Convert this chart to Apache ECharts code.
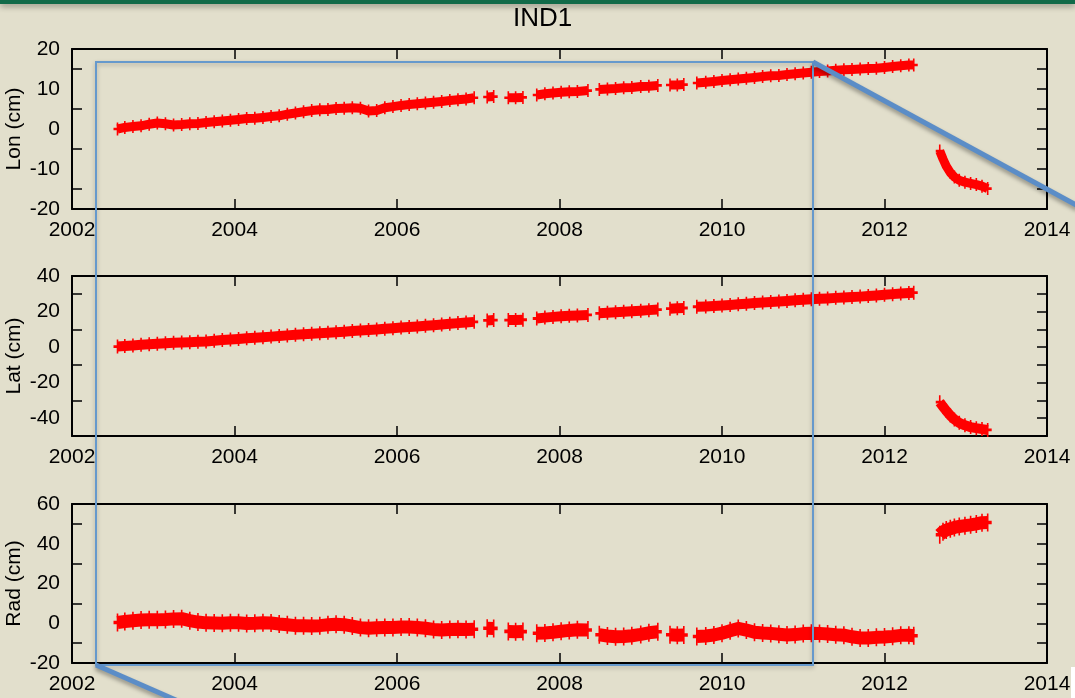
<!DOCTYPE html>
<html>
<head>
<meta charset="utf-8">
<script src="https://cdn.jsdelivr.net/npm/echarts@6/dist/echarts.min.js"></script>
<style>
html,body{margin:0;padding:0;background:#e2dfcc;}
#chart{width:1075px;height:698px;}
</style>
</head>
<body>
<div id="chart"></div>
<script>
// Sample times (decimal year); entries whose values are null mark data gaps
const years = [
  2002.56, 2002.65, 2002.75, 2002.85, 2002.95,
  2003.05, 2003.15, 2003.25, 2003.35, 2003.45, 2003.55, 2003.65, 2003.75, 2003.85, 2003.95,
  2004.05, 2004.15, 2004.25, 2004.35, 2004.45, 2004.55, 2004.65, 2004.75, 2004.85, 2004.95,
  2005.05, 2005.15, 2005.25, 2005.35, 2005.45, 2005.55, 2005.65, 2005.75, 2005.85, 2005.95,
  2006.05, 2006.15, 2006.25, 2006.35, 2006.45, 2006.55, 2006.65, 2006.75, 2006.85, 2006.95,
  2007.04,
  2007.11, 2007.19,
  2007.28,
  2007.37, 2007.46, 2007.55,
  2007.63,
  2007.72, 2007.82, 2007.92, 2008.02, 2008.12, 2008.22, 2008.35,
  2008.42,
  2008.49, 2008.59, 2008.69, 2008.79, 2008.89, 2009.00, 2009.10, 2009.21,
  2009.28,
  2009.36, 2009.45, 2009.53,
  2009.61,
  2009.69, 2009.80, 2009.90,
  2010.00, 2010.10, 2010.20, 2010.30, 2010.40, 2010.50, 2010.60, 2010.70, 2010.80, 2010.90,
  2011.00, 2011.10, 2011.20, 2011.30, 2011.40, 2011.50, 2011.60, 2011.70, 2011.80, 2011.90,
  2012.00, 2012.10, 2012.20, 2012.30, 2012.36,
  2012.50,
  2012.68, 2012.72, 2012.76, 2012.81, 2012.86, 2012.92, 2012.99, 2013.06, 2013.13, 2013.20, 2013.27
];

const lonValues = [
  0.0, 0.4, 0.6, 0.8, 1.2,
  1.5, 1.3, 1.0, 1.1, 1.3, 1.4, 1.6, 1.8, 2.0, 2.2,
  2.4, 2.6, 2.7, 2.9, 3.1, 3.3, 3.7, 4.0, 4.3, 4.6,
  4.8, 4.9, 5.1, 5.2, 5.3, 5.2, 4.5, 4.6, 5.3, 5.6,
  5.9, 6.1, 6.3, 6.5, 6.7, 6.9, 7.1, 7.3, 7.5, 7.8,
  null,
  8.0, 8.1,
  null,
  7.8, 7.8, 7.9,
  null,
  8.5, 8.8, 9.0, 9.2, 9.3, 9.4, 9.6,
  null,
  9.9, 10.0, 10.1, 10.3, 10.4, 10.6, 10.7, 10.9,
  null,
  11.0, 11.0, 11.1,
  null,
  11.5, 11.7, 11.9,
  12.1, 12.3, 12.5, 12.7, 12.9, 13.1, 13.3, 13.4, 13.6, 13.8,
  14.0, 14.2, 14.4, 14.5, 14.7, 14.8, 14.9, 15.0, 15.1, 15.2,
  15.4, 15.6, 15.8, 16.0, 16.0,
  null,
  -5.5, -7.5, -9.3, -10.9, -12.0, -12.8, -13.3, -13.6, -13.9, -14.3, -14.9
];

const latValues = [
  0.3, 0.6, 0.9, 1.3, 1.6,
  1.9, 2.2, 2.4, 2.6, 2.8, 3.0, 3.2, 3.6, 4.0, 4.3,
  4.6, 5.0, 5.3, 5.6, 5.9, 6.2, 6.6, 6.9, 7.2, 7.5,
  7.8, 8.1, 8.4, 8.7, 9.0, 9.3, 9.6, 9.9, 10.3, 10.6,
  11.0, 11.3, 11.6, 12.0, 12.3, 12.7, 13.1, 13.5, 13.8, 14.2,
  null,
  15.0, 15.2,
  null,
  15.2, 15.3, 15.4,
  null,
  16.1, 16.6, 17.0, 17.3, 17.6, 17.8, 18.1,
  null,
  19.0, 19.3, 19.6, 19.9, 20.2, 20.5, 20.8, 21.1,
  null,
  21.6, 21.8, 22.0,
  null,
  22.7, 22.9, 23.1,
  23.4, 23.7, 24.1, 24.4, 24.8, 25.1, 25.4, 25.7, 26.0, 26.3,
  26.6, 26.9, 27.2, 27.4, 27.7, 27.9, 28.2, 28.4, 28.7, 29.0,
  29.4, 29.8, 30.1, 30.4, 30.6,
  null,
  -31.0, -33.5, -35.8, -38.5, -40.7, -42.6, -44.0, -45.0, -45.6, -46.1, -46.6
];

const radValues = [
  0.4, 0.9, 1.3, 1.6, 1.7,
  1.7, 1.9, 2.2, 2.3, 1.3, 0.6, 0.2, 0.1, 0.0, 0.3,
  0.2, -0.1, 0.0, 0.3, 0.1, -0.4, -0.8, -1.2, -1.3, -1.4,
  -1.2, -0.8, -0.5, -0.7, -1.4, -2.2, -2.5, -2.3, -2.2, -2.1,
  -1.9, -1.9, -2.1, -2.5, -3.1, -3.4, -3.1, -3.0, -3.1, -3.0,
  null,
  -2.5, -2.6,
  null,
  -4.1, -4.3, -4.2,
  null,
  -5.0, -4.9, -4.5, -4.0, -3.6, -3.3, -3.4,
  null,
  -5.8, -6.4, -6.8, -6.7, -6.3, -5.6, -4.8, -4.3,
  null,
  -5.8, -6.0, -5.9,
  null,
  -6.7, -6.4, -5.9,
  -5.0, -3.8, -2.6, -3.4, -4.5, -4.9, -5.1, -5.5, -5.9, -5.7,
  -5.2, -5.0, -5.1, -5.4, -5.8, -6.0, -6.8, -7.4, -7.4, -7.1,
  -6.9, -6.6, -6.1, -6.0, -6.3,
  null,
  44.5, 46.0, 46.9, 47.6, 48.2, 48.7, 49.1, 49.5, 50.0, 50.6, 50.7
];

const xTickYears = [2002, 2014, 2];          // min, max, step
const panelNames = ['Lon (cm)', 'Lat (cm)', 'Rad (cm)'];
const panelRanges = [[-20, 20], [-50, 40], [-20, 60]];
const panelLabels = [[-20, -10, 0, 10, 20], [-40, -20, 0, 20, 40], [-20, 0, 20, 40, 60]];
const panelLeftTicks = [[-15, -5, 5, 15], [-30, -10, 10, 30], [-10, 10, 30, 50]];
const panelRightStep = [5, 10, 10];
const chartTitle = 'IND1';

const FONT = '"Liberation Sans", Arial, Helvetica, sans-serif';
const grids = [
  {left: 72, top: 49, width: 975, height: 160, outerBoundsMode: 'none', containLabel: false},
  {left: 72, top: 276, width: 975, height: 160, outerBoundsMode: 'none', containLabel: false},
  {left: 72, top: 504, width: 975, height: 159, outerBoundsMode: 'none', containLabel: false}
];
const bandWidths = [9, 10, 13];
const symbolSizes = [[8, 13], [8, 14], [8, 18]];

const plusPath = 'path://M0,4L10,4L10,6L0,6Z M4,0L6,0L6,10L4,10Z';

function toData(vals) {
  return years.map((t, i) => [t, vals[i] === null ? '-' : vals[i]]);
}
const allValues = [lonValues, latValues, radValues];

const xAxes = [], yAxes = [], series = [];
grids.forEach((g, i) => {
  const axisLine = {show: true, onZero: false, lineStyle: {color: '#000', width: 2}};
  xAxes.push({
    gridIndex: i, type: 'value', position: 'bottom',
    min: xTickYears[0], max: xTickYears[1], interval: xTickYears[2],
    axisLine: axisLine,
    axisTick: {show: true, inside: true, length: 10, lineStyle: {color: '#000', width: 1.5}},
    axisLabel: {show: true, fontSize: 21, color: '#000', fontFamily: FONT, margin: 11,
      formatter: v => String(v)},
    splitLine: {show: false}
  });
  xAxes.push({
    gridIndex: i, type: 'value', position: 'top',
    min: xTickYears[0], max: xTickYears[1], interval: xTickYears[2],
    axisLine: axisLine,
    axisTick: {show: true, inside: true, length: 10, lineStyle: {color: '#000', width: 1.5}},
    axisLabel: {show: false},
    splitLine: {show: false}
  });
  yAxes.push({
    gridIndex: i, type: 'value', position: 'left',
    min: panelRanges[i][0], max: panelRanges[i][1], interval: 10,
    axisLine: axisLine,
    axisTick: {show: true, inside: true, length: 10, customValues: panelLeftTicks[i],
      lineStyle: {color: '#000', width: 1.5}},
    axisLabel: {show: true, fontSize: 21, color: '#000', fontFamily: FONT, margin: 12,
      customValues: panelLabels[i]},
    splitLine: {show: false},
    name: panelNames[i], nameLocation: 'middle', nameGap: 47, nameMoveOverlap: false,
    nameTextStyle: {fontSize: 21, color: '#000', fontFamily: FONT}
  });
  yAxes.push({
    gridIndex: i, type: 'value', position: 'right',
    min: panelRanges[i][0], max: panelRanges[i][1], interval: panelRightStep[i],
    axisLine: axisLine,
    axisTick: {show: true, inside: true, length: 10, lineStyle: {color: '#000', width: 1.5}},
    axisLabel: {show: false},
    splitLine: {show: false}
  });
  series.push({
    type: 'line', xAxisIndex: i * 2, yAxisIndex: i * 2,
    data: toData(allValues[i]),
    connectNulls: false,
    showSymbol: true, symbol: plusPath, symbolSize: symbolSizes[i],
    itemStyle: {color: '#ff0000'},
    lineStyle: {color: '#ff0000', width: bandWidths[i], cap: 'butt', join: 'round'},
    emphasis: {disabled: true},
    silent: true, z: 3
  });
});

const chart = echarts.init(document.getElementById('chart'), null, {renderer: 'canvas'});
chart.setOption({
  backgroundColor: '#e2dfcc',
  animation: false,
  textStyle: {fontFamily: FONT},
  title: {
    text: chartTitle, left: 513, top: 6, padding: 0,
    textStyle: {fontSize: 26, fontWeight: 'normal', color: '#000', fontFamily: FONT}
  },
  grid: grids,
  xAxis: xAxes,
  yAxis: yAxes,
  series: series,
  graphic: [
    {type: 'rect', z: 100, shape: {x: 0, y: 0, width: 1075, height: 4},
      style: {fill: '#116a49', shadowBlur: 6, shadowColor: 'rgba(0,0,0,0.45)', shadowOffsetY: 2}},
    {type: 'rect', z: 100, shape: {x: 96, y: 62, width: 717, height: 603},
      style: {fill: 'none', stroke: '#6699cc', lineWidth: 2,
        shadowBlur: 4, shadowColor: 'rgba(0,0,0,0.25)', shadowOffsetY: 2}},
    {type: 'line', z: 101, shape: {x1: 813, y1: 62, x2: 1078, y2: 206},
      style: {stroke: '#5b8dc7', lineWidth: 5, shadowBlur: 4, shadowColor: 'rgba(0,0,0,0.35)', shadowOffsetY: 3}},
    {type: 'line', z: 101, shape: {x1: 96, y1: 665, x2: 178, y2: 701},
      style: {stroke: '#5b8dc7', lineWidth: 5, shadowBlur: 4, shadowColor: 'rgba(0,0,0,0.35)', shadowOffsetY: 3}},
    {type: 'rect', z: 100, shape: {x: 1071, y: 667, width: 4, height: 31},
      style: {fill: '#ffffff'}}
  ]
});
</script>
</body>
</html>
